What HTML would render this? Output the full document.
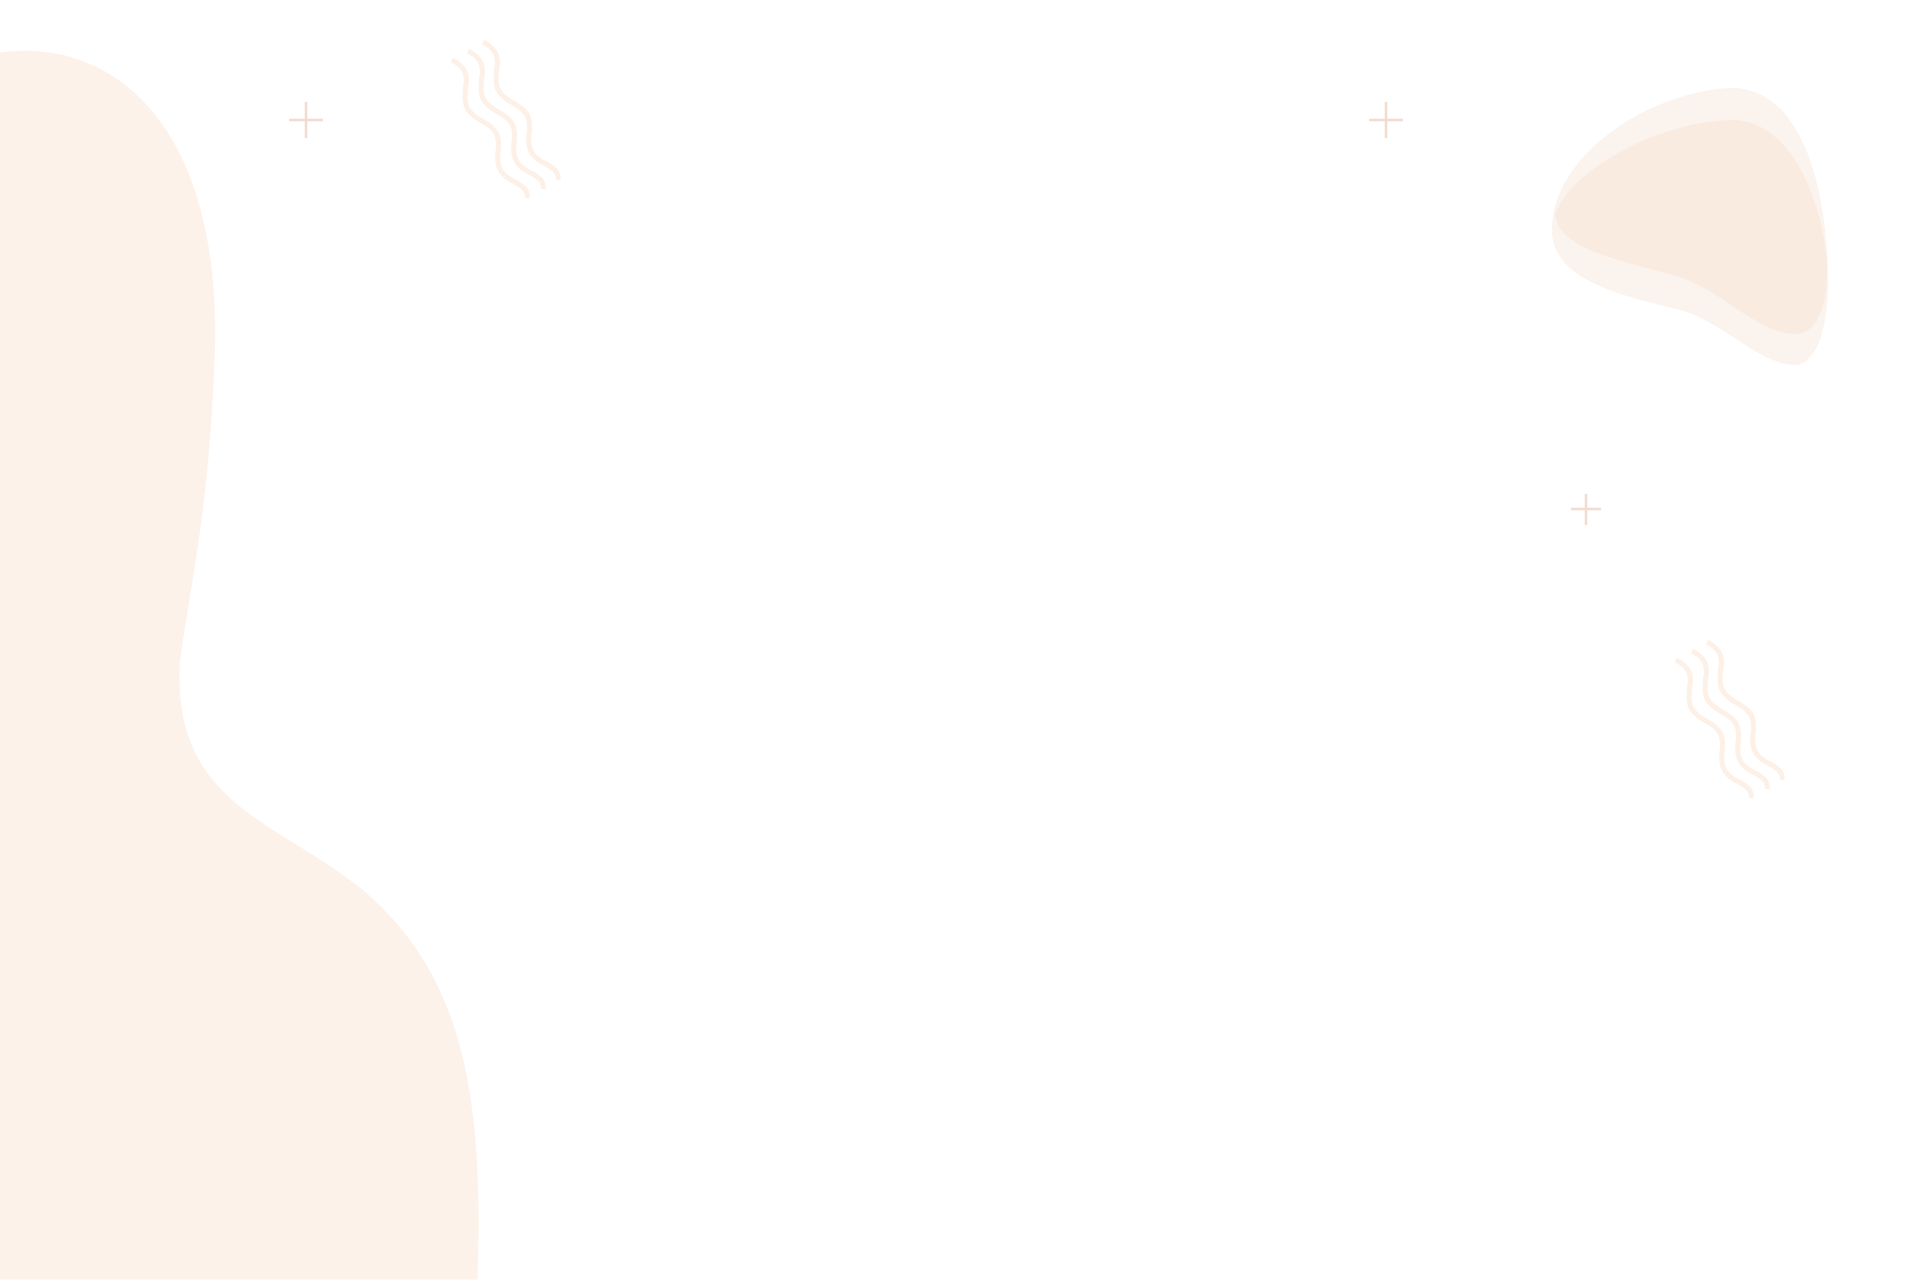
<!DOCTYPE html>
<html><head><meta charset="utf-8"><style>html,body{margin:0;padding:0;background:#fff;width:1920px;height:1280px;overflow:hidden}</style></head>
<body>
<svg width="1920" height="1280" viewBox="0 0 1920 1280" xmlns="http://www.w3.org/2000/svg">
<g transform="scale(1.2245)">
<path d="M0,43 C90,30 185,100 175,300 C170,420 155,480 147,540 C140,660 230,670 300,730 C380,800 395,900 390,1045 L0,1045 Z" fill="#fdf2ea"/>
</g>
<path d="M1735,88 C1800,92 1825,180 1828,270 C1830,330 1815,365 1795,365 C1760,365 1720,320 1680,310 C1620,295 1552,280 1552,230 C1552,150 1660,88 1735,88 Z" fill="#fbf3ee"/>
<path d="M1735,120 C1800,124 1825,220 1827,265 C1828,310 1815,334 1795,334 C1760,334 1720,290 1680,277 C1620,260 1560,250 1555,215 C1570,170 1660,120 1735,120 Z" fill="#faebe0"/>
<g stroke="#f3dccf" stroke-width="2.5" fill="none">
<path d="M306,102 V138 M289,120 H323"/>
<path d="M1386,102 V138 M1369,120 H1403"/>
<path d="M1586,494 V525 M1571,509 H1601"/>
</g>
<defs>
<g id="sq" stroke="#fdf0e6" stroke-width="5" fill="none" stroke-linecap="butt">
<path id="l" d="M452,60 C462,65 468,72 466,85 C463,105 466,112 482,121 C497,129 500,136 498,152 C496,168 502,176 515,182 C526,188 528,192 527,198"/>
<use href="#l" transform="translate(16,-9)"/>
<use href="#l" transform="translate(31,-18)"/>
</g>
</defs>
<use href="#sq"/>
<use href="#sq" transform="translate(1224,600)"/>
</svg>
</body></html>
